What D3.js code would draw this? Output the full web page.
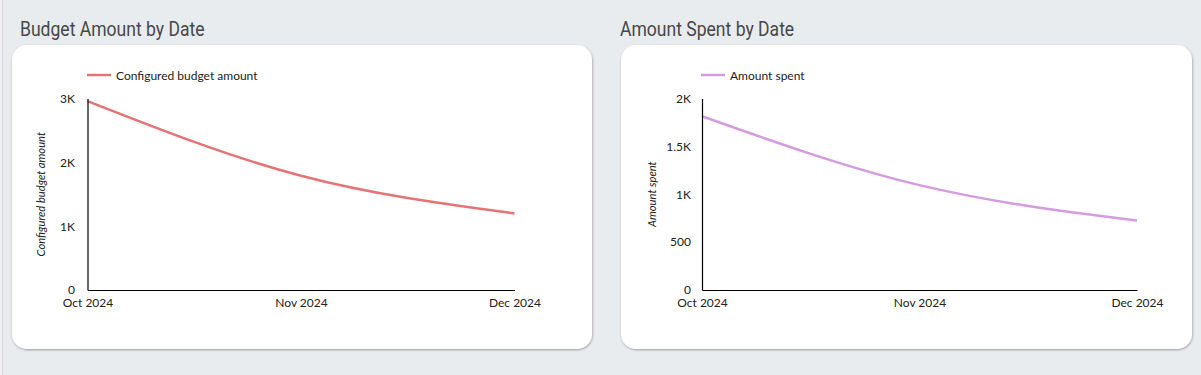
<!DOCTYPE html>
<html>
<head>
<meta charset="utf-8">
<style>
  body { margin: 0; background: #e9ecef; }
  svg { display: block; }
</style>
</head>
<body></body>

<script src='https://d3js.org/d3.v7.min.js'></script>
<script>
    const months = ["Oct 2024", "Nov 2024", "Dec 2024"];
    const budgetAmount = [2960, 1790, 1200];
    const amountSpent = [1815, 1095, 725];
    const budgetTicks = [0, 1000, 2000, 3000];
    const spentTicks = [0, 500, 1000, 1500, 2000];

    const width = 1201, height = 375;

    // one entry per panel; layout only, data comes from the arrays above
    const panels = [
        { title: "Budget Amount by Date", legend: "Configured budget amount", yTitle: "Configured budget amount",
          values: budgetAmount, ticks: budgetTicks, color: "#e57373",
          titleX: 20, card: [12, 45, 580, 304], x0: 87.5, x1: 514.5, yTitleX: 41, legendX: 87, tickPad: 12.5 },
        { title: "Amount Spent by Date", legend: "Amount spent", yTitle: "Amount spent",
          values: amountSpent, ticks: spentTicks, color: "#d49be0",
          titleX: 620, card: [621, 45, 571, 304], x0: 702, x1: 1137, yTitleX: 652, legendX: 701, tickPad: 11 }
    ];
    const yTop = 98.5, yBottom = 290;

    const fmt = v => v >= 1000 ? (v / 1000) + "K" : String(v);

    var svg = d3.select("body")
        .append("svg")
        .attr("width", width)
        .attr("height", height);

    var defs = svg.append("defs");
    var f = defs.append("filter").attr("id", "shadow")
        .attr("x", "-5%").attr("y", "-5%").attr("width", "110%").attr("height", "115%");
    f.append("feDropShadow").attr("dx", 0.5).attr("dy", 1)
        .attr("stdDeviation", 1).attr("flood-color", "#000").attr("flood-opacity", 0.35);

    svg.append("rect").attr("width", width).attr("height", height).attr("fill", "#e9ecef");
    svg.append("rect").attr("x", 0).attr("y", 0).attr("width", 2).attr("height", height).attr("fill", "#eef0f3");
    svg.append("rect").attr("x", 2).attr("y", 0).attr("width", 1).attr("height", height).attr("fill", "#d6d9de");

    panels.forEach(function (p) {
        // title font is a condensed sans; squeeze Roboto a little
        svg.append("text")
            .attr("transform", "translate(" + p.titleX + ",36) scale(0.9,1)")
            .attr("font-family", "Roboto")
            .attr("font-size", 19.5)
            .attr("fill", "#474747")
            .text(p.title);

        svg.append("rect")
            .attr("x", p.card[0]).attr("y", p.card[1])
            .attr("width", p.card[2]).attr("height", p.card[3])
            .attr("rx", 15)
            .attr("fill", "#fff")
            .attr("filter", "url(#shadow)");

        var x = d3.scalePoint().domain(months).range([p.x0, p.x1]);
        var y = d3.scaleLinear()
            .domain([0, d3.max(p.ticks)])
            .range([yBottom, yTop]);

        // legend
        svg.append("line")
            .attr("x1", p.legendX).attr("x2", p.legendX + 24)
            .attr("y1", 75).attr("y2", 75)
            .attr("stroke", p.color).attr("stroke-width", 2.5);
        svg.append("text")
            .attr("x", p.legendX + 29).attr("y", 79.5)
            .attr("font-family", "Lato").attr("font-size", 12).attr("fill", "#222")
            .text(p.legend);

        var line = d3.line()
            .x((d, i) => x(months[i]))
            .y(d => y(d))
            .curve(d3.curveMonotoneX);
        svg.append("path")
            .datum(p.values)
            .attr("d", line)
            .attr("fill", "none")
            .attr("stroke", p.color)
            .attr("stroke-width", 2.5);

        var yAxis = svg.append("g")
            .attr("transform", "translate(" + p.x0 + ",0)")
            .call(d3.axisLeft(y).tickValues(p.ticks).tickFormat(fmt).tickSize(0).tickPadding(p.tickPad));
        var xAxis = svg.append("g")
            .attr("transform", "translate(0," + yBottom + ")")
            .call(d3.axisBottom(x).tickSize(0).tickPadding(8));

        [yAxis, xAxis].forEach(function (a) {
            a.select(".domain").attr("stroke", "#000").attr("stroke-width", 1.2);
            a.selectAll("text").attr("font-family", "Lato").attr("font-size", 12).attr("fill", "#222");
        });

        svg.append("text")
            .attr("transform", "translate(" + p.yTitleX + "," + ((yTop + yBottom) / 2) + ") rotate(-90)")
            .attr("text-anchor", "middle")
            .attr("dy", "0.35em")
            .attr("font-family", "Lato").attr("font-style", "italic").attr("font-size", 11.2).attr("fill", "#222")
            .text(p.yTitle);
    });
</script>
</html>
